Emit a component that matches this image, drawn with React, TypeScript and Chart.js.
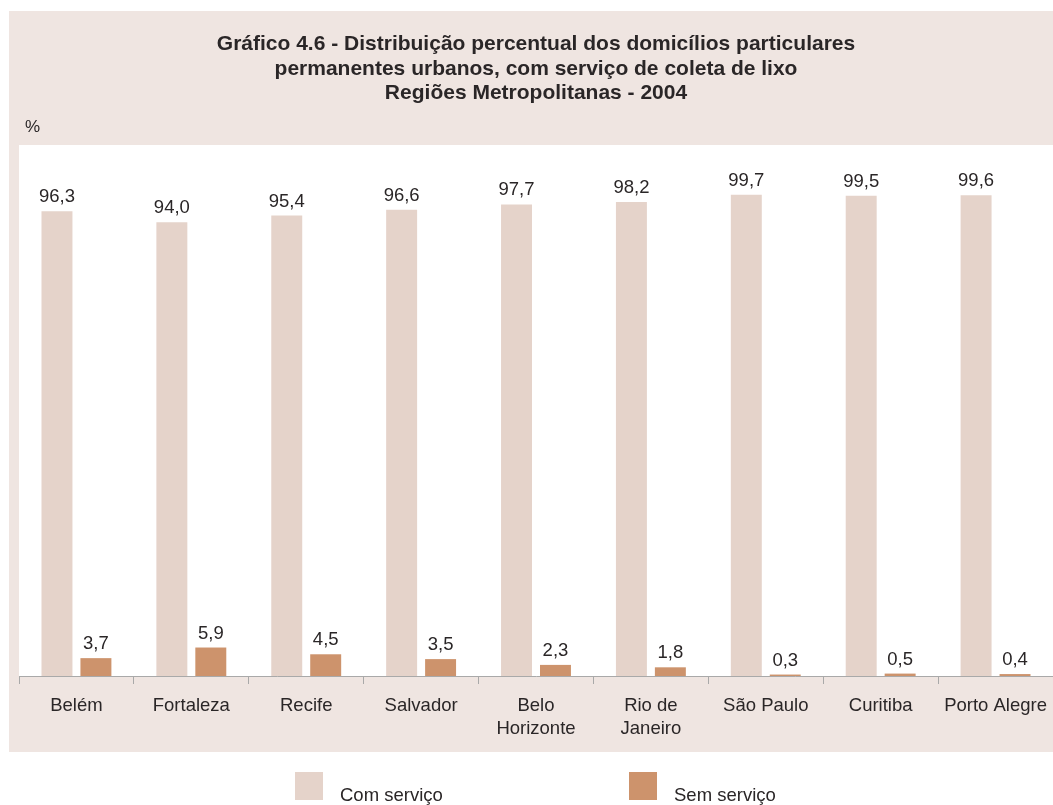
import React, { useEffect, useRef } from "react";
import { Chart, registerables } from "chart.js";

Chart.register(...registerables);

const categories: (string | string[])[] = [
  "Belém",
  "Fortaleza",
  "Recife",
  "Salvador",
  ["Belo", "Horizonte"],
  ["Rio de", "Janeiro"],
  "São Paulo",
  "Curitiba",
  "Porto Alegre",
];
const comServico = [96.3, 94.0, 95.4, 96.6, 97.7, 98.2, 99.7, 99.5, 99.6];
const semServico = [3.7, 5.9, 4.5, 3.5, 2.3, 1.8, 0.3, 0.5, 0.4];
const seriesNames = ["Com serviço", "Sem serviço"];
const titleLines = [
  "Gráfico 4.6 - Distribuição percentual dos domicílios particulares",
  "permanentes urbanos, com serviço de coleta de lixo",
  "Regiões Metropolitanas - 2004",
];
const unitLabel = "%";

const COLORS = ["#e5d3ca", "#cd936c"];
const PANEL = "#efe5e1";
const TEXT = "#2a2627";
const FONT = "'Liberation Sans', Arial, sans-serif";
const TITLE_FONT = "'Liberation Sans', Arial, sans-serif";

const fmt = (v: number) => v.toFixed(1).replace(".", ",");

const drawPlugin = {
  id: "customDraw",
  beforeDraw(chart: any) {
    const { ctx, chartArea } = chart;
    ctx.save();
    ctx.fillStyle = "#ffffff";
    ctx.fillRect(0, 0, chart.width, chart.height);
    ctx.fillStyle = PANEL;
    ctx.fillRect(9, 11, chart.width - 9, 752 - 11);
    ctx.fillStyle = "#ffffff";
    ctx.fillRect(
      chartArea.left,
      chartArea.top,
      chartArea.right - chartArea.left,
      chartArea.bottom - chartArea.top
    );
    ctx.restore();
  },
  afterDatasetsDraw(chart: any) {
    const { ctx } = chart;
    ctx.save();
    ctx.fillStyle = TEXT;
    ctx.font = `18.5px ${FONT}`;
    ctx.textAlign = "center";
    ctx.textBaseline = "middle";
    chart.data.datasets.forEach((ds: any, di: number) => {
      const meta = chart.getDatasetMeta(di);
      meta.data.forEach((bar: any, i: number) => {
        ctx.fillText(fmt(ds.data[i]), bar.x, bar.y - 14);
      });
    });
    ctx.restore();
  },
  afterDraw(chart: any) {
    const { ctx, chartArea } = chart;
    ctx.save();
    ctx.fillStyle = TEXT;
    // title
    ctx.font = `bold 21px ${TITLE_FONT}`;
    ctx.textAlign = "center";
    ctx.textBaseline = "middle";
    const cx = (chartArea.left + chartArea.right) / 2;
    titleLines.forEach((line, i) => {
      ctx.fillText(line, cx, 44.5 + i * 24.5);
    });
    // unit
    ctx.font = `17px ${FONT}`;
    ctx.textAlign = "left";
    ctx.fillText(unitLabel, 25, 127);
    // legend
    const legendX = [295, 629];
    ctx.font = `18.5px ${FONT}`;
    seriesNames.forEach((name, i) => {
      ctx.fillStyle = COLORS[i];
      ctx.fillRect(legendX[i], 772, 28, 28);
      ctx.fillStyle = TEXT;
      ctx.fillText(name, legendX[i] + 45, 796);
    });
    ctx.restore();
  },
};

export default function App() {
  const ref = useRef<HTMLCanvasElement | null>(null);
  useEffect(() => {
    if (!ref.current) return;
    const chart = new Chart(ref.current, {
      type: "bar",
      data: {
        labels: categories,
        datasets: [
          {
            label: seriesNames[0],
            data: comServico,
            backgroundColor: COLORS[0],
            categoryPercentage: 0.678,
            barPercentage: 0.795,
          },
          {
            label: seriesNames[1],
            data: semServico,
            backgroundColor: COLORS[1],
            categoryPercentage: 0.678,
            barPercentage: 0.795,
          },
        ],
      },
      options: {
        responsive: false,
        animation: false,
        layout: { padding: { left: 19, right: 0, top: 145, bottom: 54 } },
        plugins: {
          legend: { display: false },
          title: { display: false },
          tooltip: { enabled: false },
        },
        scales: {
          x: {
            grid: {
              display: true,
              drawOnChartArea: false,
              drawTicks: true,
              tickLength: 8,
              color: "#a9a9a9",
              offset: true,
            },
            border: { display: true, color: "#a9a9a9", width: 1 },
            ticks: {
              font: { family: FONT, size: 18.5, lineHeight: 1.25 },
              color: TEXT,
              padding: 10,
              maxRotation: 0,
              autoSkip: false,
            },
            afterFit: (scale: any) => {
              scale.height = 75;
              scale.paddingLeft = 0;
              scale.paddingRight = 0;
            },
          },
          y: { display: false, min: 0, max: 110 },
        },
      },
      plugins: [drawPlugin],
    });
    return () => chart.destroy();
  }, []);
  return (
    <div style={{ position: "absolute", left: 0, top: 0, width: 1053, height: 805 }}>
      <canvas ref={ref} width={1053} height={805} style={{ width: 1053, height: 805 }} />
    </div>
  );
}
